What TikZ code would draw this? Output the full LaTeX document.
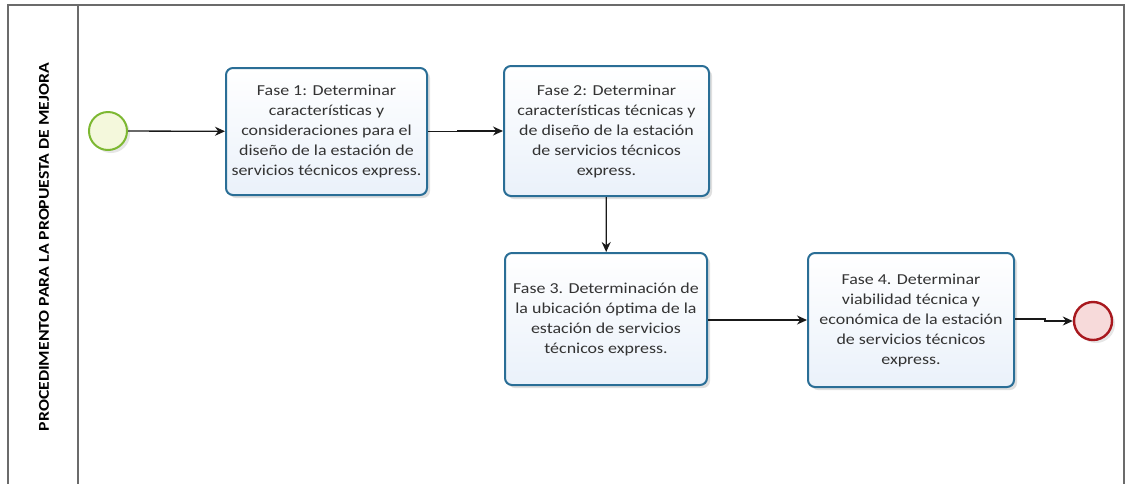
\documentclass[tikz,border=0pt]{standalone}
\usepackage{fontspec}
\setmainfont{Carlito}
\newfontfamily\wfont[FakeStretch=1.18]{Carlito}
\usetikzlibrary{shadows,arrows.meta}
\definecolor{taskborder}{HTML}{2A6E96}
\definecolor{taskfill}{HTML}{EAF1FA}
\definecolor{poolline}{HTML}{6B6B6B}
\definecolor{startline}{HTML}{7DB832}
\definecolor{startfill}{HTML}{F4F8DC}
\definecolor{endline}{HTML}{A8181E}
\definecolor{endfill}{HTML}{F7DADA}
\definecolor{txt}{HTML}{333333}
\tikzset{
  task/.style={draw=taskborder, line width=2pt, rounded corners=7pt, top color=white, bottom color=taskfill,
    align=center, inner sep=0pt, text=txt, font=\wfont\fontsize{15.2}{20}\selectfont,
    drop shadow={shadow xshift=3pt, shadow yshift=-3pt, opacity=0.25, fill=black!50}},
  startev/.style={circle, draw=startline, line width=2pt, fill=startfill, minimum size=38pt, inner sep=0pt,
    drop shadow={shadow xshift=3pt, shadow yshift=-3pt, opacity=0.2, fill=black!50}},
  endev/.style={circle, draw=endline, line width=2.4pt, fill=endfill, minimum size=38pt, inner sep=0pt,
    drop shadow={shadow xshift=3pt, shadow yshift=-3pt, opacity=0.2, fill=black!50}},
  flow/.style={-{Stealth[length=10pt,width=9pt]}, line width=1.3pt, black!90},
  pool/.style={draw=poolline, line width=1.8pt}
}
\begin{document}
\begin{tikzpicture}[x=1pt,y=-1pt]
\useasboundingbox (0,0) rectangle (1133,483);
\draw[pool] (8,490) -- (8,5) -- (1124,5) -- (1124,490);
\draw[pool] (78,5) -- (78,490);
\node[rotate=90, font=\wfont\bfseries\fontsize{15}{17}\selectfont] (lbl) at (44,247) {PROCEDIMENTO PARA LA PROPUESTA DE MEJORA};
\node[startev] (s) at (108,131) {};
\node[task, minimum width=201pt, minimum height=127pt] (f1) at (326.5,131.5) {Fase 1: Determinar\\características y\\consideraciones para el\\diseño de la estación de\\servicios técnicos express.};
\node[task, minimum width=205pt, minimum height=130pt] (f2) at (606.5,131) {Fase 2: Determinar\\características técnicas y\\de diseño de la estación\\de servicios técnicos\\express.};
\node[task, minimum width=202pt, minimum height=132pt] (f3) at (606,319) {Fase 3. Determinación de\\la ubicación óptima de la\\estación de servicios\\técnicos express.};
\node[task, minimum width=206pt, minimum height=134pt] (f4) at (911,320) {Fase 4. Determinar\\viabilidad técnica y\\económica de la estación\\de servicios técnicos\\express.};
\node[endev] (e) at (1093,321) {};
\draw[flow] (s) -- (f1);
\draw[flow] (f1.east) -- ++(30,0) |- (f2.west);
\draw[flow] (f2) -- (f3);
\draw[flow] (f3.east |- 0,320) -- (f4.west |- 0,320);
\draw[flow] (f4.east |- 0,319) -- ++(30,0) |- (e.west);
\end{tikzpicture}
\end{document}
